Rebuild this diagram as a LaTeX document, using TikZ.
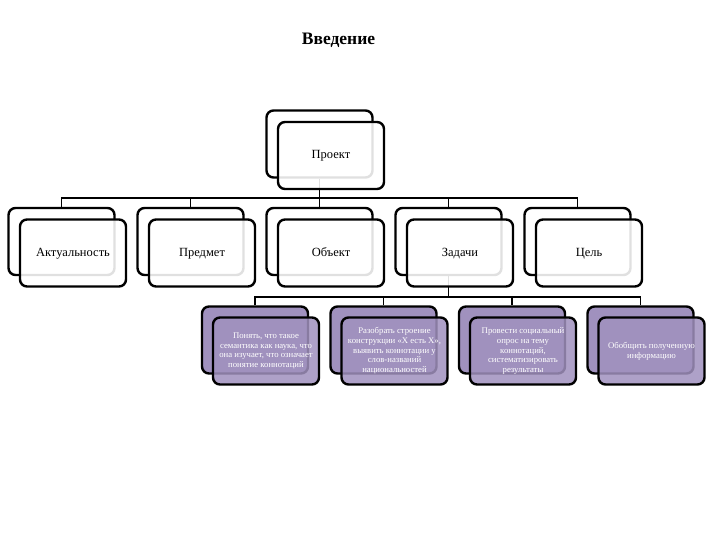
\documentclass[tikz,border=0pt]{standalone}
\usepackage{fontspec}
\setmainfont{Liberation Serif}
\usetikzlibrary{calc}
\definecolor{boxpurple}{RGB}{160,145,190}
\tikzset{
  x=1pt, y=-1pt,
  backbox/.style={draw=black, line width=2.4pt, rounded corners=7pt, fill=white,
    minimum width=106pt, minimum height=67pt, inner sep=0pt},
  frontbox/.style={backbox, fill opacity=0.88, text opacity=1,
    text height=9pt, text depth=2.5pt,
    font=\fontsize{12.5}{15}\selectfont},
  pback/.style={backbox, fill=boxpurple},
  pfront/.style={backbox, fill=boxpurple, fill opacity=0.85, text opacity=1,
    text=white, align=center, font=\fontsize{8.7}{9.7}\selectfont},
  conn/.style={draw=black, line width=1.8pt},
}
\begin{document}
\begin{tikzpicture}
\useasboundingbox (0,0) rectangle (720,540);
\node[font=\bfseries\fontsize{17.5}{20}\selectfont] (title) at (338.5,40) {Введение};

% coordinates of boxes (back boxes)
\coordinate (pbc) at (319.5,144);
\coordinate (abc) at (61.5,241.5);
\coordinate (bbc) at (190.5,241.5);
\coordinate (obc) at (319.5,241.5);
\coordinate (zbc) at (448.5,241.5);
\coordinate (cbc) at (577.5,241.5);
\coordinate (t1c) at (255,340);
\coordinate (t2c) at (383.5,340);
\coordinate (t3c) at (512,340);
\coordinate (t4c) at (640.5,340);

% back boxes
\node[backbox] (pb) at (pbc) {};
\node[backbox] (ab) at (abc) {};
\node[backbox] (bb) at (bbc) {};
\node[backbox] (ob) at (obc) {};
\node[backbox] (zb) at (zbc) {};
\node[backbox] (cb) at (cbc) {};
\node[pback] (t1b) at (t1c) {};
\node[pback] (t2b) at (t2c) {};
\node[pback] (t3b) at (t3c) {};
\node[pback] (t4b) at (t4c) {};

% connectors
\coordinate (bus1) at (319.5,198);
\coordinate (bus2) at (448.5,297);
\draw[conn] (pb.south) -- (bus1);
\foreach \n in {ab,bb,ob,zb,cb} { \draw[conn] (bus1) -| (\n.north); }
\draw[conn] (zb.south) -- (bus2);
\foreach \n in {t1b,t2b,t3b,t4b} { \draw[conn] (bus2) -| (\n.north); }

% front boxes
\node[frontbox] (pf) at ($(pbc)+(11.5,11.5)$) {Проект};
\node[frontbox] (af) at ($(abc)+(11.5,11.5)$) {Актуальность};
\node[frontbox] (bf) at ($(bbc)+(11.5,11.5)$) {Предмет};
\node[frontbox] (of) at ($(obc)+(11.5,11.5)$) {Объект};
\node[frontbox] (zf) at ($(zbc)+(11.5,11.5)$) {Задачи};
\node[frontbox] (cf) at ($(cbc)+(11.5,11.5)$) {Цель};
\node[pfront] (t1f) at ($(t1c)+(11,11)$) {Понять, что такое\\семантика как наука, что\\она изучает, что означает\\понятие коннотаций};
\node[pfront] (t2f) at ($(t2c)+(11,11)$) {Разобрать строение\\конструкции «Х есть Х»,\\выявить коннотации у\\слов-названий\\национальностей};
\node[pfront] (t3f) at ($(t3c)+(11,11)$) {Провести социальный\\опрос на тему\\коннотаций,\\систематизировать\\результаты};
\node[pfront] (t4f) at ($(t4c)+(11,11)$) {Обобщить полученную\\информацию};
\end{tikzpicture}
\end{document}
